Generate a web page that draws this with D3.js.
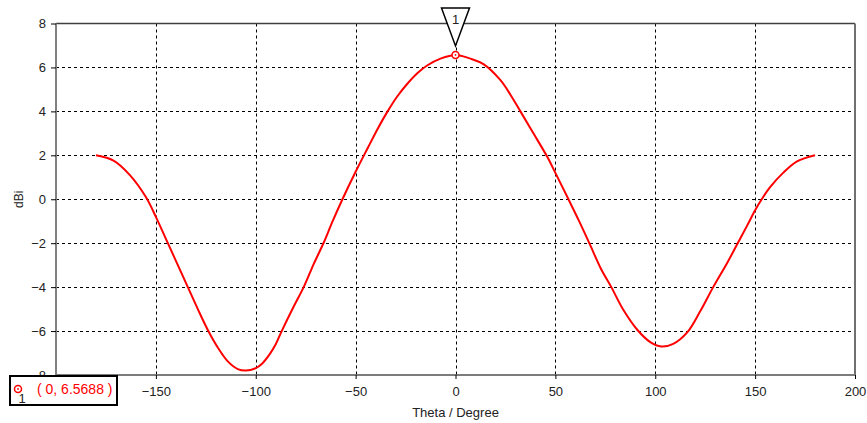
<!DOCTYPE html>
<html>
<head>
<meta charset="utf-8">
<script src="https://cdn.jsdelivr.net/npm/d3@7"></script>
<style>
  body { margin: 0; background: #fff; }
  svg { display: block; }
  text { font-family: "Liberation Sans", Arial, sans-serif; }
</style>
</head>
<body>
<div id="chart"></div>
<script>
const width = 867;
const height = 423;

// far-field cut, dBi vs theta
const theta = [-180, -171, -163, -155, -150, -144, -139, -134, -129, -124, -119, -114, -109, -105, -100,
	-97, -93, -90, -87, -81, -76, -71, -66, -61.6, -56.6, -50, -44, -39, -34, -29, -24, -19, -14, -7.5, 0,
	7.5, 14, 22.5, 27.5, 32.5, 39, 46, 50, 56, 62, 67, 73, 78, 84, 91, 97.5, 103, 109, 116, 122.5,
	129, 136, 141, 146, 150, 153.3, 157.5, 164, 171, 180];
const gain = [2.0, 1.75, 1.1, 0.1, -0.8, -2.0, -3.0, -4.0, -5.0, -5.95, -6.75, -7.38, -7.73, -7.8, -7.69,
	-7.5, -7.05, -6.6, -6.0, -4.88, -4.0, -2.95, -1.98, -1.02, 0.0, 1.25, 2.32, 3.2, 4.0, 4.7, 5.27, 5.75, 6.1, 6.4, 6.5688,
	6.4, 6.15, 5.42, 4.76, 4.0, 3.0, 1.92, 1.2, 0.1, -1.02, -2.0, -3.2, -4.0, -5.03, -5.94, -6.5, -6.7, -6.58, -6.06, -5.1,
	-4.0, -2.9, -2.05, -1.2, -0.5, 0.0, 0.55, 1.2, 1.72, 2.0];

const xTicks = [-150, -100, -50, 0, 50, 100, 150, 200];
const yTicks = [-8, -6, -4, -2, 0, 2, 4, 6, 8];
const markerTheta = [0];
const markerValue = [6.5688];

const svg = d3.select("#chart")
	.append("svg")
	.attr("width", width)
	.attr("height", height);

const plotLeft = 56, plotRight = 855, plotTop = 23.5, plotBottom = 375;

const x = d3.scaleLinear().domain([-200, 200]).range([plotLeft, plotRight]);
const y = d3.scaleLinear().domain([-8, 8]).range([plotBottom, plotTop]);

// grid
svg.append("g")
	.selectAll("line")
	.data(xTicks.filter(t => t < 200))
	.enter()
	.append("line")
	.attr("x1", d => Math.round(x(d)) + 0.5)
	.attr("x2", d => Math.round(x(d)) + 0.5)
	.attr("y1", plotTop)
	.attr("y2", plotBottom)
	.attr("stroke", "#000")
	.attr("stroke-dasharray", "3,3");

svg.append("g")
	.selectAll("line")
	.data(yTicks.filter(t => t > -8 && t < 8))
	.enter()
	.append("line")
	.attr("x1", plotLeft)
	.attr("x2", plotRight)
	.attr("y1", d => Math.round(y(d)) + 0.5)
	.attr("y2", d => Math.round(y(d)) + 0.5)
	.attr("stroke", "#000")
	.attr("stroke-dasharray", "3,3");

// frame
svg.append("line").attr("x1", plotLeft).attr("x2", plotRight).attr("y1", plotTop).attr("y2", plotTop)
	.attr("stroke", "#404040").attr("stroke-width", 1.5);
svg.append("line").attr("x1", plotLeft).attr("x2", plotRight).attr("y1", plotBottom).attr("y2", plotBottom)
	.attr("stroke", "#505050").attr("stroke-width", 1.5);
svg.append("line").attr("x1", plotLeft).attr("x2", plotLeft).attr("y1", plotTop).attr("y2", plotBottom)
	.attr("stroke", "#808080").attr("stroke-width", 2);
svg.append("line").attr("x1", plotRight).attr("x2", plotRight).attr("y1", plotTop).attr("y2", plotBottom)
	.attr("stroke", "#707070").attr("stroke-width", 2);

// axes
const xAxis = d3.axisBottom(x).tickValues(xTicks).tickSize(4).tickPadding(8);
const gx = svg.append("g").attr("transform", `translate(0,${plotBottom})`).call(xAxis);
gx.select(".domain").remove();
gx.selectAll("text").attr("font-size", 13).attr("fill", "#222")
	.attr("font-family", "Liberation Sans, Arial, sans-serif");

const yAxis = d3.axisLeft(y).tickValues(yTicks).tickSize(5).tickPadding(5);
const gy = svg.append("g").attr("transform", `translate(${plotLeft},0)`).call(yAxis);
gy.select(".domain").remove();
gy.selectAll("text").attr("font-size", 13).attr("fill", "#222")
	.attr("font-family", "Liberation Sans, Arial, sans-serif");

svg.append("text")
	.attr("x", x(0))
	.attr("y", 417)
	.attr("text-anchor", "middle")
	.attr("font-size", 13)
	.attr("fill", "#222")
	.text("Theta / Degree");

svg.append("text")
	.attr("transform", `translate(23,${(plotTop + plotBottom) / 2}) rotate(-90)`)
	.attr("text-anchor", "middle")
	.attr("font-size", 12)
	.attr("fill", "#222")
	.text("dBi");

// curve
const line = d3.line()
	.x((d, i) => x(theta[i]))
	.y(d => y(d))
	.curve(d3.curveCatmullRom);

svg.append("path")
	.datum(gain)
	.attr("d", line)
	.attr("fill", "none")
	.attr("stroke", "#ff0000")
	.attr("stroke-width", 2);

// marker
const mx = x(markerTheta[0]), my = y(markerValue[0]);
svg.append("circle").attr("cx", mx).attr("cy", my).attr("r", 3.5)
	.attr("fill", "#fff").attr("stroke", "#ff0000").attr("stroke-width", 1.5);
svg.append("circle").attr("cx", mx).attr("cy", my).attr("r", 0.9).attr("fill", "#ff0000");

svg.append("path")
	.attr("d", `M${mx - 14},8 L${mx + 14},8 L${mx},${my - 9} Z`)
	.attr("fill", "#fff")
	.attr("stroke", "#000")
	.attr("stroke-width", 1.5);
svg.append("text")
	.attr("x", mx)
	.attr("y", 24)
	.attr("text-anchor", "middle")
	.attr("font-family", "Liberation Serif, serif")
	.attr("font-size", 13)
	.attr("fill", "#222")
	.text("1");

// legend box
svg.append("rect")
	.attr("x", 10).attr("y", 376)
	.attr("width", 107).attr("height", 29)
	.attr("fill", "#fff")
	.attr("stroke", "#000")
	.attr("stroke-width", 2);
svg.append("circle").attr("cx", 18).attr("cy", 389).attr("r", 3.5)
	.attr("fill", "#fff").attr("stroke", "#ff0000").attr("stroke-width", 1.5);
svg.append("circle").attr("cx", 18).attr("cy", 389).attr("r", 0.9).attr("fill", "#ff0000");
svg.append("text")
	.attr("x", 22)
	.attr("y", 403)
	.attr("text-anchor", "middle")
	.attr("font-family", "Liberation Serif, serif")
	.attr("font-size", 13)
	.attr("fill", "#222")
	.text("1");
svg.append("text")
	.attr("x", 37)
	.attr("y", 394)
	.attr("font-size", 14)
	.attr("fill", "#ff0000")
	.text(`( ${markerTheta[0]}, ${markerValue[0]} )`);
</script>
</body>
</html>
